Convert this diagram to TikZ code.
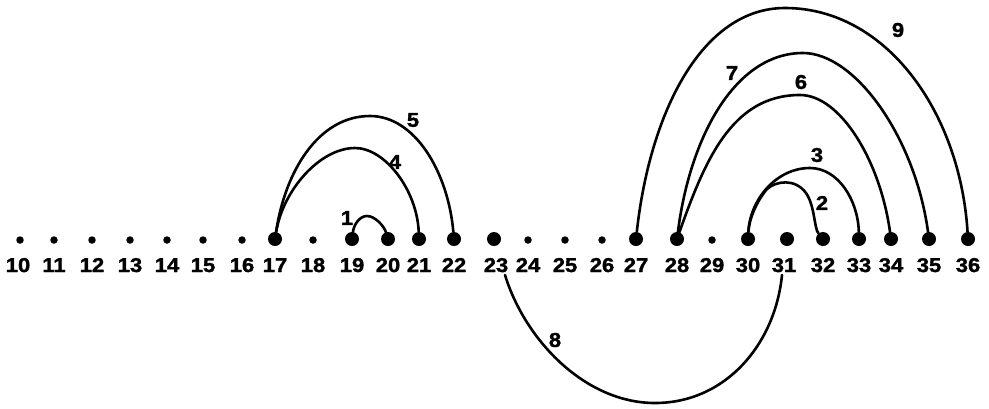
\documentclass[tikz,border=0pt]{standalone}
\usepackage{fontspec}
\newfontfamily\labfont{Liberation Sans}[FakeStretch=1.1,BoldFeatures={FakeBold=1.6}]
\begin{document}
\begin{tikzpicture}[x=1pt,y=-1pt,
  bigdot/.style={circle,fill=black,inner sep=0pt,minimum size=14pt},
  smalldot/.style={circle,fill=black,inner sep=0pt,minimum size=7.5pt},
  num/.style={font=\labfont\bfseries\fontsize{20}{20}\selectfont,inner sep=0pt,anchor=base},
  arclab/.style={font=\labfont\bfseries\fontsize{20}{20}\selectfont,inner sep=0pt},
  arcline/.style={line width=2.6pt,line cap=round}]
\useasboundingbox (0,0) rectangle (989,408);
% small dots
\foreach \n/\x in {10/20,11/54,12/92,13/130,14/167,15/203,16/242,18/313,24/528,25/565,26/602,29/712}
  \node[smalldot] (n\n) at (\x,240) {};
% big dots
\foreach \n/\x in {17/275,19/352,20/388,21/419,22/454,23/494,27/636,28/677,30/748,31/787,32/823,33/859,34/891,35/929,36/968}
  \node[bigdot] (n\n) at (\x,239) {};
% number labels
\foreach \n/\x in {10/18,11/54,12/92,13/130,14/167,15/203,16/242,17/275,18/313,19/352,20/388,21/419,22/454,23/496,24/528,25/565,26/602,27/636,28/677,29/712,30/748,31/784,32/823,33/859,34/891,35/929,36/968}
  \node[num] (l\n) at (\x,272) {\n};
% free ends of arc 8
\coordinate (e8a) at (505,275);
\coordinate (e8b) at (782,275);
% arcs
\draw[arcline] (n19) .. controls (354,224) and (360,216) .. (367,216) .. controls (375,216) and (384,226) .. (n20);
\draw[arcline] (n17) .. controls (283,190) and (320,148) .. (355,148) .. controls (385,148) and (417,190) .. (n21);
\draw[arcline] (n17) .. controls (285,172) and (318,116) .. (370,116) .. controls (415,116) and (448,172) .. (n22);
\draw[arcline] (n30) .. controls (750,200) and (776,168) .. (810,168) .. controls (838,168) and (858,200) .. (n33);
\draw[arcline] (n30) .. controls (749,220) and (756,202) .. (767,189) .. controls (776,181) and (795,178) .. (806,193) .. controls (815,206) and (814,228) .. (n32);
\draw[arcline] (n28) .. controls (705,160) and (732,95) .. (800,95) .. controls (840,95) and (880,160) .. (n34);
\draw[arcline] (n28) .. controls (690,137) and (735,53) .. (803,53) .. controls (855,53) and (915,137) .. (n35);
\draw[arcline] (n27) .. controls (650,112) and (702,8) .. (785,8) .. controls (886,8) and (960,112) .. (n36);
\draw[arcline] (e8a) .. controls (525,340) and (585,403) .. (655,403) .. controls (725,403) and (775,345) .. (e8b);
% arc labels
\node[arclab] (t1) at (347,218) {1};
\node[arclab] (t2) at (822,203) {2};
\node[arclab] (t3) at (817,155) {3};
\node[arclab] (t4) at (395,162) {4};
\node[arclab] (t5) at (413,120) {5};
\node[arclab] (t6) at (801,82) {6};
\node[arclab] (t7) at (732,73) {7};
\node[arclab] (t8) at (555,340) {8};
\node[arclab] (t9) at (898,30) {9};
\end{tikzpicture}
\end{document}
